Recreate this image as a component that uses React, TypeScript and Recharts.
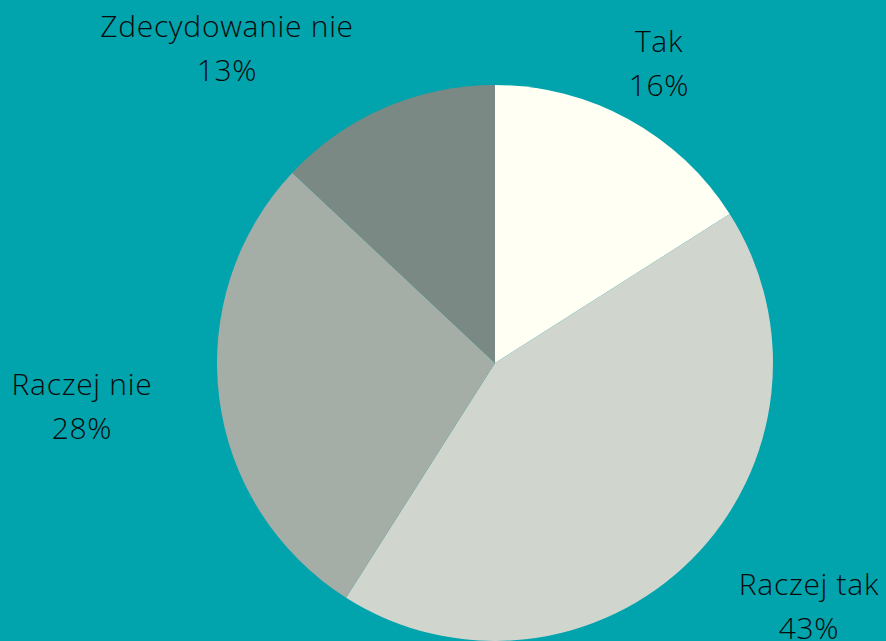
import React from "react";
import { PieChart, Pie, Cell } from "recharts";

const categories = ["Tak", "Raczej tak", "Raczej nie", "Zdecydowanie nie"];
const values = [16, 43, 28, 13];
const colors = ["#FFFFF4", "#D0D5CE", "#A4ADA6", "#7A8984"];

const data = categories.map((name, i) => ({ name, value: values[i] }));

// first-line baseline positions of the label blocks, relative to pie centre
const labelOffsets = [
  { dx: 164, dy: -311 },
  { dx: 314, dy: 232 },
  { dx: -413, dy: 32 },
  { dx: -268, dy: -326 },
];

const renderLabel = (props: any) => {
  const { cx, cy, index, payload, percent } = props;
  const o = labelOffsets[index];
  const x = cx + o.dx;
  const y = cy + o.dy;
  const pct = Math.round((percent ?? 0) * 100);
  return (
    <text
      x={x}
      y={y}
      textAnchor="middle"
      fill="#0a0a0a"
      fontFamily="'Open Sans', sans-serif"
      fontWeight={300}
      fontSize={30}
      letterSpacing={0.7}
    >
      <tspan x={x} dy={0}>{payload.name}</tspan>
      <tspan x={x} dy={44}>{pct}%</tspan>
    </text>
  );
};

export default function App() {
  return (
    <div
      style={{
        position: "fixed",
        left: 0,
        top: 0,
        width: 886,
        height: 641,
        background: "#01A3AD",
        overflow: "hidden",
      }}
    >
      <PieChart width={886} height={641} margin={{ top: 0, right: 0, bottom: 0, left: 0 }}>
        <Pie
          data={data}
          dataKey="value"
          nameKey="name"
          cx={495}
          cy={363}
          outerRadius={278}
          startAngle={90}
          endAngle={-270}
          stroke="none"
          label={renderLabel}
          labelLine={false}
          isAnimationActive={false}
        >
          {data.map((d, i) => (
            <Cell key={d.name} fill={colors[i]} />
          ))}
        </Pie>
      </PieChart>
    </div>
  );
}
